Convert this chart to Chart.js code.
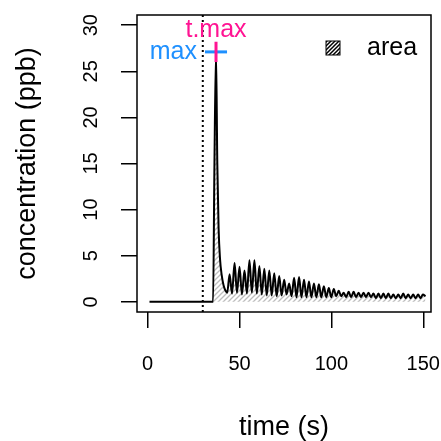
<!DOCTYPE html>
<html lang="en">
<head>
<meta charset="UTF-8">
<title>concentration vs time</title>
<style>
  body { margin: 0; background: #fff; }
</style>
<script src="https://cdn.jsdelivr.net/npm/chart.js@4.4.0/dist/chart.umd.min.js"></script>
</head>
<body>
<canvas id="chart" width="441" height="441"></canvas>
<script>
// time (s) and concentration (ppb)
const time = [1, 35.6, 36.3, 37.2, 37.9, 38.6, 39.4, 40.3, 41.3, 42.4, 43.3,
  44.6, 45.9, 47.3, 48.6, 50.0, 51.3, 52.7, 54.0, 55.4, 56.7, 58.1, 59.4,
  60.8, 62.1, 63.5, 64.8, 66.2, 67.5, 68.9, 70.2, 71.6, 72.9, 74.3, 75.6,
  77.0, 78.3, 79.7, 81.0, 82.4, 83.7, 85.1, 86.4, 87.8, 89.1, 90.5, 91.8,
  93.2, 94.5, 95.9, 97.2, 98.6, 99.9, 101.3, 102.6, 104.0, 105.3, 106.7,
  108.0, 109.4, 110.7, 112.1, 113.4, 114.8, 116.1, 117.5, 118.8, 120.2,
  121.5, 122.9, 124.2, 125.6, 126.9, 128.3, 129.6, 131.0, 132.3, 133.7,
  135.0, 136.4, 137.7, 139.1, 140.4, 141.8, 143.1, 144.5, 145.8, 147.2,
  148.5, 149.8, 151.2];
const conc = [0, 0, 14, 27.1, 15, 8, 4.6, 2.9, 1.8, 1.2, 1.0,
  3.0, 0.9, 4.2, 1.0, 3.8, 0.8, 3.4, 0.9, 4.5, 1.0, 4.5, 0.9,
  3.9, 0.8, 3.6, 0.7, 3.4, 0.7, 3.1, 0.6, 2.8, 0.7, 2.4, 0.8,
  2.0, 0.6, 2.6, 0.5, 2.7, 0.5, 2.4, 0.5, 2.2, 0.5, 2.0, 0.5,
  1.9, 0.5, 1.7, 0.5, 1.5, 0.5, 1.4, 0.6, 1.2, 0.6, 1.0,
  0.5, 1.1, 0.5, 1.1, 0.5, 1.0, 0.5, 1.0, 0.5, 1.0,
  0.5, 0.9, 0.4, 0.9, 0.4, 0.9, 0.4, 0.9, 0.4, 0.8,
  0.4, 0.8, 0.4, 0.9, 0.4, 0.8, 0.4, 0.8, 0.4, 0.8,
  0.4, 0.8, 0.6];
const xTicks = [0, 50, 100, 150];
const yTicks = [0, 5, 10, 15, 20, 25, 30];
const startTime = 30;

const xMin = -5.8, xMax = 154.2;
const yMin = -1.1, yMax = 31.1;

const peak = Math.max(...conc);
const tPeak = time[conc.indexOf(peak)];

const FONT = "'Liberation Sans', Arial, sans-serif";
const PINK = '#FF1493';
const BLUE = '#1E90FF';

Chart.defaults.font.family = FONT;
Chart.defaults.color = '#000';

function hatch(color, size, lw) {
  const c = document.createElement('canvas');
  c.width = c.height = size;
  const g = c.getContext('2d');
  g.strokeStyle = color;
  g.lineWidth = lw;
  g.beginPath();
  g.moveTo(0, size); g.lineTo(size, 0);
  g.moveTo(-1, 1); g.lineTo(1, -1);
  g.moveTo(size - 1, size + 1); g.lineTo(size + 1, size - 1);
  g.stroke();
  return g.createPattern(c, 'repeat');
}

const extras = {
  id: 'extras',
  afterDraw(chart) {
    const ctx = chart.ctx;
    const a = chart.chartArea;
    const x = chart.scales.x, y = chart.scales.y;
    ctx.save();
    // box
    ctx.strokeStyle = '#000';
    ctx.lineWidth = 1.5;
    ctx.strokeRect(a.left, a.top, a.right - a.left, a.bottom - a.top);

    // y tick labels, parallel to the axis
    ctx.font = '20px ' + FONT;
    ctx.fillStyle = '#000';
    ctx.textAlign = 'center';
    ctx.textBaseline = 'middle';
    y.ticks.forEach(t => {
      ctx.save();
      ctx.translate(91, y.getPixelForValue(t.value));
      ctx.rotate(-Math.PI / 2);
      ctx.fillText(String(t.value), 0, 0);
      ctx.restore();
    });

    // peak labels
    const px = x.getPixelForValue(tPeak), py = y.getPixelForValue(peak);
    ctx.font = '25px ' + FONT;
    ctx.fillStyle = PINK;
    ctx.textAlign = 'center';
    ctx.textBaseline = 'alphabetic';
    ctx.fillText('t.max', px, py - 15);
    ctx.fillStyle = BLUE;
    ctx.textAlign = 'right';
    ctx.textBaseline = 'middle';
    ctx.fillText('max', px - 19, py);

    // legend
    const bx = a.right - 105, by = a.top + 26;
    ctx.fillStyle = hatch('#000', 4, 1.5);
    ctx.fillRect(bx, by, 14, 14);
    ctx.strokeStyle = '#000';
    ctx.lineWidth = 1;
    ctx.strokeRect(bx, by, 14, 14);
    ctx.font = '25px ' + FONT;
    ctx.fillStyle = '#000';
    ctx.textAlign = 'left';
    ctx.textBaseline = 'middle';
    ctx.fillText('area', bx + 41, by + 7);
    ctx.restore();
  }
};

new Chart(document.getElementById('chart'), {
  type: 'line',
  data: {
    datasets: [
      {
        data: [{x: tPeak, y: peak - 1.1}, {x: tPeak, y: peak + 1.1}],
        borderColor: PINK, borderWidth: 3, pointRadius: 0, order: 0
      },
      {
        data: [{x: tPeak - 6, y: peak}, {x: tPeak + 6, y: peak}],
        borderColor: BLUE, borderWidth: 3, pointRadius: 0, order: 1
      },
      {
        label: 'area',
        data: time.map((t, i) => ({x: t, y: conc[i]})),
        borderColor: '#000', borderWidth: 2, pointRadius: 0,
        fill: 'origin', backgroundColor: hatch('#bdbdbd', 5, 1.3),
        cubicInterpolationMode: 'monotone', order: 2
      },
      {
        data: [{x: startTime, y: yMin}, {x: startTime, y: yMax}],
        borderColor: '#000', borderWidth: 2, borderDash: [2, 3],
        pointRadius: 0, order: 3
      }
    ]
  },
  options: {
    responsive: false,
    animation: false,
    layout: { padding: { top: 15, right: 10, left: 0, bottom: 0 } },
    plugins: { legend: { display: false }, tooltip: { enabled: false } },
    scales: {
      x: {
        type: 'linear', min: xMin, max: xMax,
        afterBuildTicks: s => { s.ticks = xTicks.map(v => ({value: v})); },
        afterFit: s => { s.height = 129; s.paddingLeft = 0; s.paddingRight = 0; },
        grid: { drawOnChartArea: false, tickLength: 16, color: '#000', lineWidth: 1.5 },
        border: { display: false },
        ticks: { font: { size: 20 }, color: '#000', padding: 24, maxRotation: 0 },
        title: { display: true, text: 'time (s)', font: { size: 27, lineHeight: 1 }, color: '#000', padding: { top: 0, bottom: 0 } }
      },
      y: {
        type: 'linear', min: yMin, max: yMax,
        afterBuildTicks: s => { s.ticks = yTicks.map(v => ({value: v})); },
        afterFit: s => { s.width = 137; s.paddingTop = 0; s.paddingBottom = 0; },
        grid: { drawOnChartArea: false, tickLength: 16, color: '#000', lineWidth: 1.5 },
        border: { display: false },
        ticks: { display: false },
        title: { display: true, text: 'concentration (ppb)', font: { size: 27, lineHeight: 1 }, color: '#000', padding: { top: 14, bottom: 0 } }
      }
    }
  },
  plugins: [extras]
});
</script>
</body>
</html>
